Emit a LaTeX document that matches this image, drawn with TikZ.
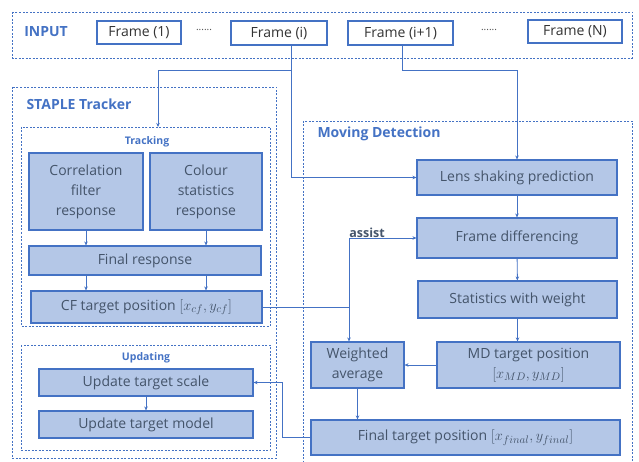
\documentclass[tikz,border=0pt]{standalone}
\usepackage{amsmath}
\usepackage{fontspec}
\setmainfont{Open Sans}
\usetikzlibrary{arrows.meta}
\definecolor{lineblue}{HTML}{4472C4}
\definecolor{boxfill}{HTML}{B4C7E7}
\definecolor{txtgrey}{HTML}{44546A}
\newcommand{\posvec}[1]{{\fontsize{15.5}{20}\selectfont$#1$}}
\tikzset{
  blockbox/.style={draw=lineblue, line width=1.1pt, fill=boxfill, text=txtgrey,
    align=center, inner sep=1pt, font=\fontsize{14}{20}\selectfont},
  framebox/.style={draw=lineblue, line width=1.1pt, fill=white, text=black!80,
    inner sep=1pt, font=\fontsize{14}{16}\selectfont},
  groupbox/.style={draw=lineblue, dash pattern=on 2pt off 1.5pt, line width=0.8pt},
  title/.style={text=lineblue, font=\bfseries\fontsize{14}{16}\selectfont},
  subtitle/.style={text=lineblue, font=\bfseries\fontsize{10.5}{12}\selectfont},
  arr/.style={draw=lineblue, line width=0.9pt, -{Stealth[length=4pt,width=3.5pt]}},
  conn/.style={draw=lineblue, line width=0.9pt}
}
\begin{document}
\begin{tikzpicture}[x=1pt,y=-1pt]
  \useasboundingbox (0,0) rectangle (639,462);
  % dashed groups
  \draw[groupbox] (12,12) rectangle (632,58);
  \draw[groupbox] (12,87) rectangle (276,458);
  \draw[groupbox] (21,127) rectangle (270,326);
  \draw[groupbox] (21,345) rectangle (270,450);
  \draw[groupbox] (303,121) rectangle (632,466);
  \node[title] (intitle) at (46,32) {INPUT};
  \node[title, anchor=west] (sttitle) at (23,104) {STAPLE Tracker};
  \node[subtitle] (trktitle) at (147,142) {Tracking};
  \node[subtitle] (updtitle) at (146,358) {Updating};
  \node[title, anchor=west] (mdtitle) at (314,134) {Moving Detection};

  % input frames
  \node[framebox, minimum width=84, minimum height=23] (f1) at (139,32.5) {Frame (1)};
  \node[text=black!70] (dots1) at (204,30) {......};
  \node[framebox, minimum width=96, minimum height=24] (fi) at (279,33) {Frame (i)};
  \node[framebox, minimum width=105, minimum height=24] (fi1) at (400.5,33) {Frame (i+1)};
  \node[text=black!70] (dots2) at (489,30) {......};
  \node[framebox, minimum width=94, minimum height=23] (fN) at (575,31.5) {Frame (N)};

  % tracker blocks
  \node[blockbox, minimum width=114, minimum height=77] (cfr) at (86,191.5) {Correlation\\filter\\response};
  \node[blockbox, minimum width=112, minimum height=77] (csr) at (206,191.5) {Colour\\statistics\\response};
  \node[blockbox, minimum width=232, minimum height=29] (fr) at (145,260.5) {Final response};
  \node[blockbox, minimum width=231, minimum height=32] (cft) at (146.5,307) {CF target position \posvec{[x_{cf},y_{cf}]}};
  \node[blockbox, minimum width=214, minimum height=27] (uts) at (146,382.5) {Update target scale};
  \node[blockbox, minimum width=214, minimum height=27] (utm) at (146,424.5) {Update target model};

  % moving detection blocks
  \node[blockbox, minimum width=200, minimum height=35] (lsp) at (517,177.5) {Lens shaking prediction};
  \node[blockbox, minimum width=200, minimum height=40] (fd) at (517,238) {Frame differencing};
  \node[blockbox, minimum width=199, minimum height=37] (sww) at (517.5,299.5) {Statistics with weight};
  \node[blockbox, minimum width=183, minimum height=46] (mdt) at (528.5,365) {MD target position\\\posvec{[x_{MD},y_{MD}]}};
  \node[blockbox, minimum width=93, minimum height=46] (wa) at (357.5,365) {Weighted\\average};
  \node[blockbox, minimum width=309, minimum height=35] (ftp) at (465.5,437.5) {Final target position \posvec{[x_{final},y_{final}]}};
  \node[text=txtgrey, font=\bfseries\fontsize{12.5}{14}\selectfont] (assist) at (367,233) {assist};

  % frames into the two branches
  \coordinate (fiout) at (291,45);
  \coordinate (fi1out) at (402,45);
  \draw[arr] (fiout) |- (lsp.west);
  \draw[arr] (fiout |- 0,70) -| (158,127);
  \draw[arr] (fi1out) |- (lsp.north |- 0,70) -- (lsp.north);

  % tracking
  \draw[arr] (cfr.south) -- (cfr.south |- fr.north);
  \draw[arr] (csr.south) -- (csr.south |- fr.north);
  \draw[arr] (cfr.south |- fr.south) -- (cfr.south |- cft.north);
  \draw[arr] (csr.south |- fr.south) -- (csr.south |- cft.north);
  \draw[arr] (uts) -- (utm);

  % detection chain
  \draw[arr] (lsp) -- (fd);
  \draw[arr] (fd) -- (sww);
  \draw[arr] (sww.south) -- (sww.south |- mdt.north);
  \draw[arr] (mdt.west) -- (wa.east);
  \draw[arr] (wa.south) -- (wa.south |- ftp.north);

  % CF position assists differencing and averaging
  \coordinate (jn) at (349,307);
  \draw[conn] (cft.east) -- (jn);
  \draw[arr] (jn) |- (fd.west);
  \draw[arr] (jn) -- (jn |- wa.north);

  % feedback to update
  \draw[arr] (ftp.west) -- ++(-28,0) |- (uts.east);
\end{tikzpicture}
\end{document}
